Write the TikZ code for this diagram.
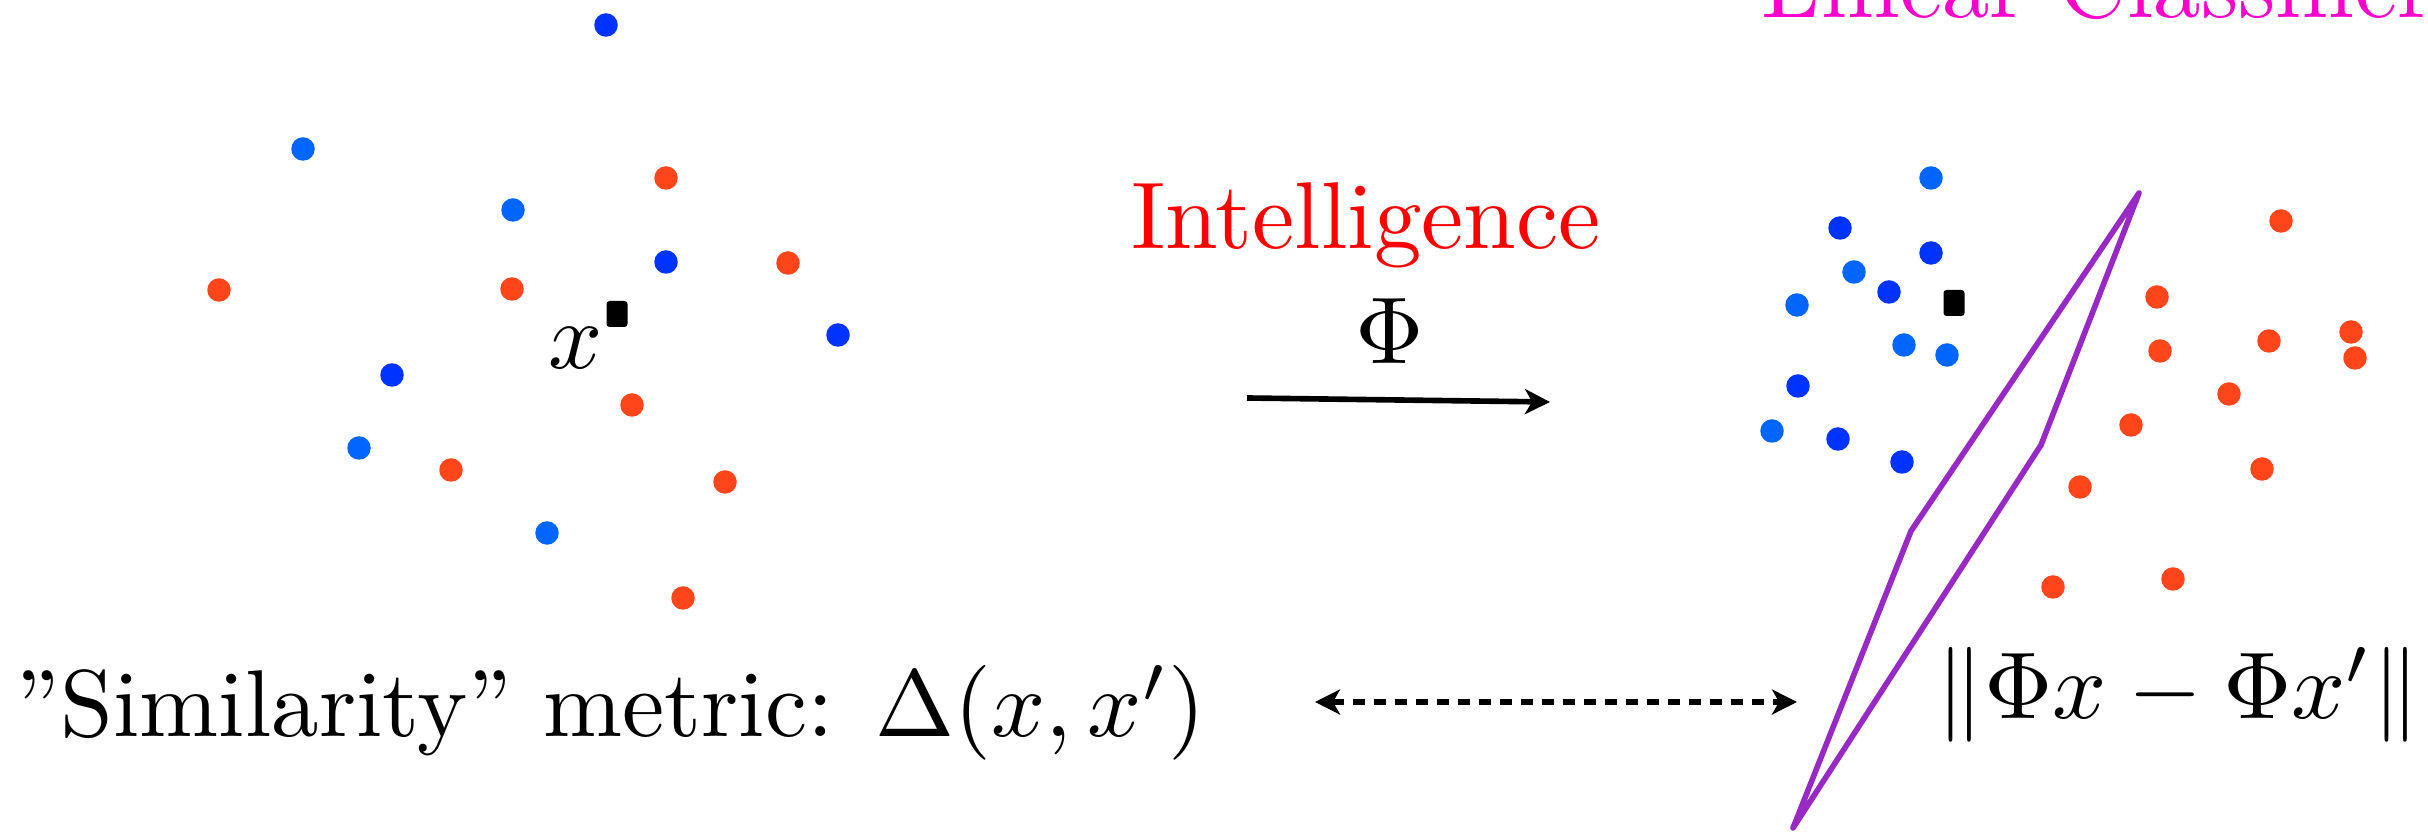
\documentclass[tikz,border=0pt]{standalone}
\usepackage{amsmath}
\usepackage{amssymb}
\usepackage{tikz}
\usetikzlibrary{arrows.meta}

\definecolor{dkblue}{RGB}{0,51,255}
\definecolor{ltblue}{RGB}{0,102,255}
\definecolor{ptred}{RGB}{255,69,25}
\definecolor{clsmag}{RGB}{255,0,204}
\definecolor{seppurple}{RGB}{153,41,196}

\begin{document}
\begin{tikzpicture}[
    x=1cm, y=1cm,
    dk/.style={circle, fill=dkblue, minimum size=0.235cm, inner sep=0pt},
    lt/.style={circle, fill=ltblue, minimum size=0.235cm, inner sep=0pt},
    rd/.style={circle, fill=ptred, minimum size=0.235cm, inner sep=0pt},
    qpt/.style={rectangle, fill=black, rounded corners=0.03cm,
        minimum width=0.21cm, minimum height=0.26cm, inner sep=0pt},
    txt/.style={inner sep=0pt, scale=2.7, font=\fontsize{10}{12}\selectfont}
]

\useasboundingbox (0,0) rectangle (24.28,8.32);

%---------------------------------
% Input space
%---------------------------------

\node[dk] (l1)  at (6.06,8.07) {};
\node[lt] (l2)  at (3.03,6.83) {};
\node[rd] (l3)  at (6.66,6.54) {};
\node[lt] (l4)  at (5.13,6.22) {};
\node[dk] (l5)  at (6.66,5.70) {};
\node[rd] (l6)  at (7.88,5.69) {};
\node[rd] (l7)  at (2.19,5.42) {};
\node[rd] (l8)  at (5.12,5.43) {};
\node[dk] (l9)  at (8.38,4.97) {};
\node[dk] (l10) at (3.92,4.57) {};
\node[rd] (l11) at (6.32,4.27) {};
\node[lt] (l12) at (3.59,3.84) {};
\node[rd] (l13) at (4.51,3.62) {};
\node[rd] (l14) at (7.25,3.50) {};
\node[lt] (l15) at (5.47,2.99) {};
\node[rd] (l16) at (6.83,2.34) {};

% the query point
\node[qpt] (xin) at (6.17,5.18) {};
\node[txt, anchor=base] (xlab) at (5.76,4.63) {$x$};

%---------------------------------
% Feature space
%---------------------------------

% Blue class
\node[lt] (r1)  at (19.31,6.54) {};
\node[dk] (r2)  at (18.40,6.04) {};
\node[dk] (r3)  at (19.31,5.79) {};
\node[lt] (r4)  at (18.54,5.60) {};
\node[dk] (r5)  at (18.89,5.40) {};
\node[lt] (r6)  at (17.97,5.27) {};
\node[lt] (r7)  at (19.04,4.87) {};
\node[lt] (r8)  at (19.47,4.77) {};
\node[dk] (r9)  at (17.98,4.46) {};
\node[lt] (r10) at (17.72,4.01) {};
\node[dk] (r11) at (18.38,3.93) {};
\node[dk] (r12) at (19.02,3.70) {};

% Red class
\node[rd] (r13) at (22.81,6.11) {};
\node[rd] (r14) at (21.57,5.35) {};
\node[rd] (r15) at (21.60,4.81) {};
\node[rd] (r16) at (22.69,4.91) {};
\node[rd] (r17) at (23.51,5.00) {};
\node[rd] (r18) at (23.55,4.74) {};
\node[rd] (r19) at (22.29,4.38) {};
\node[rd] (r20) at (21.31,4.07) {};
\node[rd] (r21) at (22.62,3.63) {};
\node[rd] (r22) at (20.80,3.45) {};
\node[rd] (r23) at (20.53,2.45) {};
\node[rd] (r24) at (21.73,2.53) {};

% the mapped point
\node[qpt] (xout) at (19.54,5.29) {};

% separator
\draw[seppurple, line width=1.6pt, line join=round]
    (21.39,6.39) -- (19.11,3.01) -- (17.93,0.04) -- (20.41,3.87) -- cycle;

\node[txt, anchor=base west, text=clsmag] (cls) at (17.60,8.14) {Linear Classifier};

%---------------------------------
% The map
%---------------------------------

\node[txt, anchor=base, text=red] (intel) at (13.66,5.83) {Intelligence};
\node[txt] (phi) at (13.90,5.01) {$\Phi$};

\coordinate (mapa) at (12.47,4.34);
\coordinate (mapb) at (15.50,4.30);
\draw[-{Stealth[length=0.25cm, width=0.25cm, inset=0.07cm]}, line width=1.6pt]
    (mapa) -- (mapb);

%---------------------------------
% Metrics
%---------------------------------

\node[txt, anchor=base west] (sim) at (0.14,0.95)
    {''Similarity'' metric: $\Delta(x,x')$};
\node[txt, anchor=base west] (norm) at (19.35,1.13)
    {$\|\Phi x-\Phi x'\|$};

\coordinate (dl) at (13.15,1.30);
\coordinate (dr) at (17.97,1.30);
\draw[{Stealth[length=0.25cm, width=0.25cm, inset=0.07cm]}-{Stealth[length=0.25cm, width=0.25cm, inset=0.07cm]},
    line width=1.6pt, dash pattern=on 0.12cm off 0.09cm]
    (dl) -- (dr);

\end{tikzpicture}
\end{document}
